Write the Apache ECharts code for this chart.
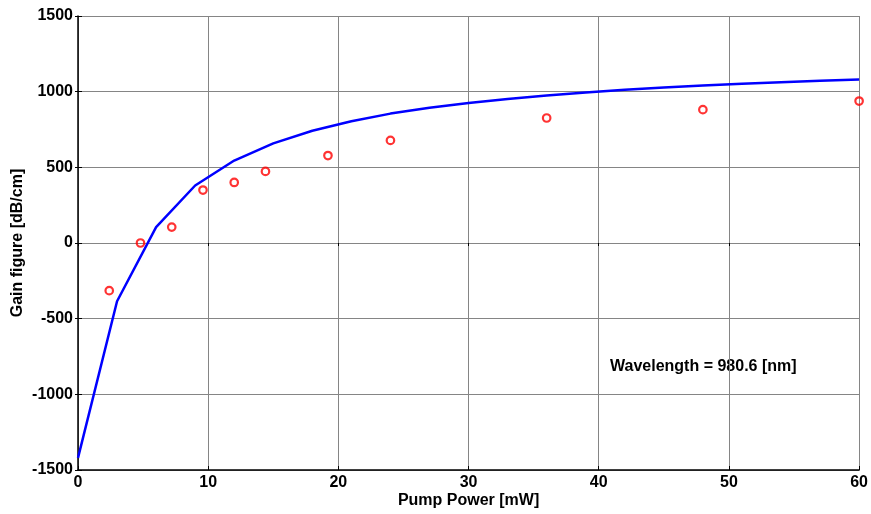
<!DOCTYPE html>
<html>
<head>
<meta charset="utf-8">
<script src="https://cdn.jsdelivr.net/npm/echarts@6/dist/echarts.min.js"></script>
<style>html,body{margin:0;padding:0;background:#fff}#c{width:871px;height:514px}</style>
</head>
<body>
<div id="c"></div>
<script>
// Simulated curve (blue line)
const lineX = [0, 3, 6, 9, 12, 15, 18, 21, 24, 27, 30, 33, 36, 39, 42, 45, 48, 51, 54, 57, 60];
const lineY = [-1420, -385, 105, 380, 545, 658, 742, 805, 855, 893, 925, 952, 975, 995, 1012, 1027, 1040, 1052, 1062, 1072, 1080];
// Measured points (red circles)
const measX = [2.4, 4.8, 7.2, 9.6, 12, 14.4, 19.2, 24, 36, 48, 60];
const measY = [-315, 0, 105, 350, 400, 473, 578, 678, 826, 881, 938];
const xTicks = [0, 10, 20, 30, 40, 50, 60];
const yTicks = [-1500, -1000, -500, 0, 500, 1000, 1500];
const annotation = 'Wavelength = 980.6 [nm]';

const font = 'Liberation Sans, Arial, sans-serif';
const chart = echarts.init(document.getElementById('c'), null, {renderer: 'canvas'});
const lbl = {color: '#000', fontWeight: 'bold', fontSize: 16, fontFamily: font};
const plain = v => String(v);
chart.setOption({
  animation: false,
  backgroundColor: '#fff',
  grid: {left: 78, right: 10, top: 16, bottom: 40, containLabel: false},
  xAxis: [{
    type: 'value', min: xTicks[0], max: xTicks[xTicks.length - 1], interval: 10,
    name: 'Pump Power [mW]', nameLocation: 'middle', nameGap: 23, nameMoveOverlap: false,
    nameTextStyle: lbl,
    axisLine: {show: true, onZero: false, lineStyle: {color: '#000', width: 1.5}},
    axisTick: {show: true, inside: true, length: 4, lineStyle: {color: '#000'}},
    axisLabel: Object.assign({margin: 5, formatter: plain}, lbl),
    splitLine: {show: true, lineStyle: {color: '#858585', width: 1}}
  }, {
    type: 'value', position: 'top', min: xTicks[0], max: xTicks[xTicks.length - 1], interval: 10,
    axisLine: {show: false},
    axisTick: {show: true, inside: true, length: 3, lineStyle: {color: '#000'}},
    axisLabel: {show: false}, splitLine: {show: false}
  }],
  yAxis: [{
    type: 'value', min: yTicks[0], max: yTicks[yTicks.length - 1], interval: 500,
    name: 'Gain figure [dB/cm]', nameLocation: 'middle', nameGap: 52, nameMoveOverlap: false,
    nameTextStyle: lbl,
    axisLine: {show: true, onZero: false, lineStyle: {color: '#000', width: 1.5}},
    axisTick: {show: true, inside: true, length: 4, lineStyle: {color: '#000'}},
    axisLabel: Object.assign({margin: 5, formatter: plain}, lbl),
    splitLine: {show: true, lineStyle: {color: '#858585', width: 1}}
  }, {
    type: 'value', position: 'right', min: yTicks[0], max: yTicks[yTicks.length - 1], interval: 500,
    axisLine: {show: false},
    axisTick: {show: true, inside: true, length: 3, lineStyle: {color: '#000'}},
    axisLabel: {show: false}, splitLine: {show: false}
  }],
  series: [{
    type: 'line',
    data: lineX.map((x, i) => [x, lineY[i]]),
    showSymbol: false, symbol: 'none',
    lineStyle: {color: '#0000ff', width: 2.5},
    z: 3
  }, {
    type: 'scatter',
    data: measX.map((x, i) => [x, measY[i]]),
    symbol: 'circle', symbolSize: 7.5,
    itemStyle: {color: 'rgba(0,0,0,0)', borderColor: '#ff0000', borderWidth: 2.2},
    z: 4
  }],
  graphic: [{
    type: 'text', left: 610, top: 359,
    style: {text: annotation, fill: '#000', font: 'bold 16px ' + font}
  }]
});
</script>
</body>
</html>
